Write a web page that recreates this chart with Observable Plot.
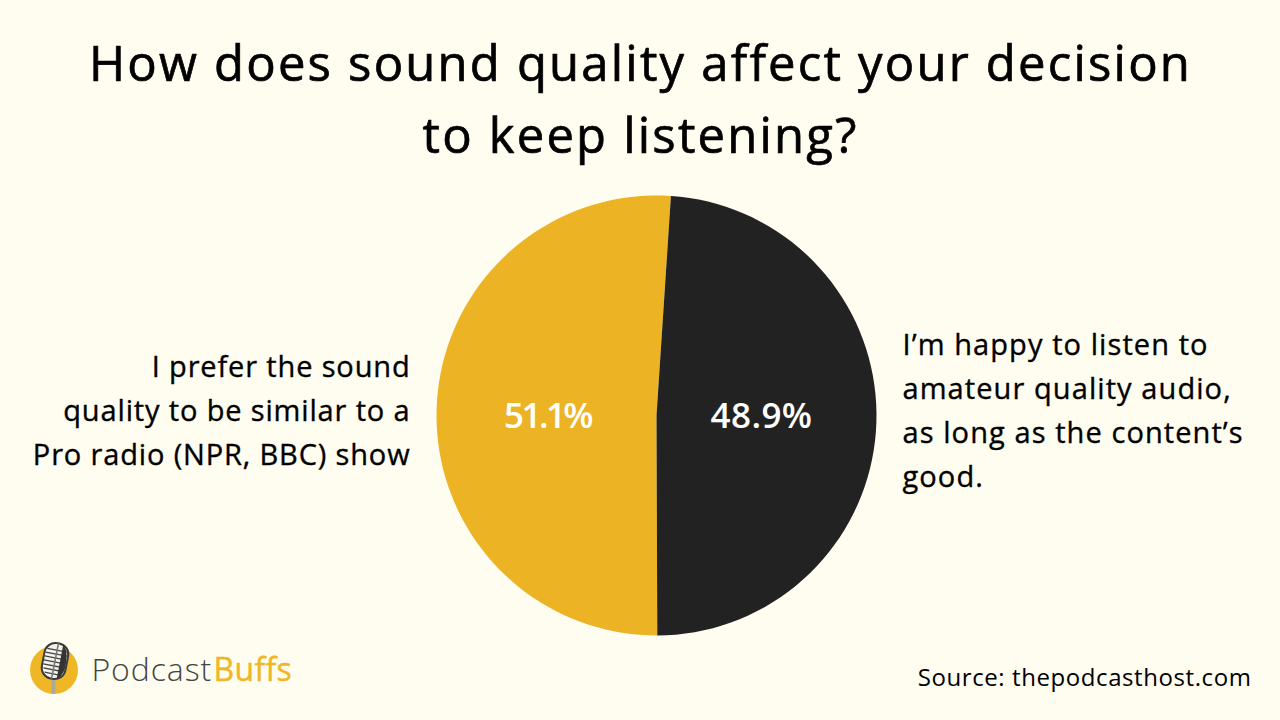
<!DOCTYPE html>
<html>
<head>
<meta charset="utf-8">
<script src="https://cdn.jsdelivr.net/npm/d3@7"></script>
<script src="https://cdn.jsdelivr.net/npm/@observablehq/plot@0.6"></script>
<style>
html,body{margin:0;padding:0;background:#FFFCF0;width:1280px;height:720px;overflow:hidden}
#chart{position:absolute;left:0;top:0}
#logo{position:absolute;left:0;top:630px}
.t-title{letter-spacing:2.2px}
.t-left{letter-spacing:.85px}
.t-right{letter-spacing:1.08px}
.t-source{letter-spacing:.58px}
.t-p1{letter-spacing:-2.6px}
.t-p2{letter-spacing:.4px}
.t-brand-a{letter-spacing:.9px}
.t-brand-b{letter-spacing:.3px}
</style>
</head>
<body>
<div id="chart"></div>
<svg id="logo" width="90" height="80" viewBox="0 630 90 80" role="img" aria-label="PodcastBuffs logo">
  <circle cx="54" cy="670" r="24" fill="#EFB726"/>
  <rect x="51.5" y="678" width="4" height="16" fill="#a9a9a0"/>
  <g transform="rotate(11 55 661)">
    <rect x="43" y="643" width="24" height="36" rx="11" fill="#f4f2ea" stroke="#3a3a3a" stroke-width="2"/>
    <path d="M45 650H65M44 654H66M44 658H66M44 662H66M44 666H66M45 670H65M47 674H63" stroke="#444" stroke-width="1.3" fill="none"/>
    <path d="M55 643V679" stroke="#777" stroke-width="1.6"/>
    <path d="M60 644Q67 648 66 668Q64 676 60 678Z" fill="#333"/>
  </g>
</svg>
<script>
const categories = ["I prefer the sound quality to be similar to a Pro radio (NPR, BBC) show", "I’m happy to listen to amateur quality audio, as long as the content’s good."];
const shares = [51.1, 48.9];
const sliceColors = ["#ECB424", "#222222"];
const shareLabels = ["51.1%", "48.9%"];
const titleText = "How does sound quality affect your decision\nto keep listening?";
const leftLabel = "I prefer the sound\nquality to be similar to a\nPro radio (NPR, BBC) show";
const rightLabel = "I’m happy to listen to\namateur quality audio,\nas long as the content’s\ngood.";
const sourceText = "Source: thepodcasthost.com";
const brandA = "Podcast";
const brandB = "Buffs";

// Each slice is a sector on the globe, seen from above the pole: the meridians
// fan out as radii and the equator becomes the pie's rim.
const total = d3.sum(shares);
const startClock = 179.8;
let clock = startClock;
const features = categories.map((name, i) => {
  const sweep = shares[i] / total * 360;
  const a0 = clock, a1 = clock + sweep;
  clock = a1;
  const steps = Math.ceil(sweep / 20);
  const rim = d3.range(steps + 1).map(k => [180 - (a0 + (a1 - a0) * k / steps), 0]);
  return {
    type: "Feature",
    properties: {name},
    geometry: {type: "Polygon", coordinates: [[[0, 90], ...rim, [0, 90]]]}
  };
});

const font = "'Open Sans', Lato, sans-serif";
const label = (text, o) => Plot.text([text], {
  text: d => d, frameAnchor: "top-left", lineAnchor: "top", fontFamily: font, ...o
});

const chart = Plot.plot({
  width: 1280,
  height: 720,
  margin: 0,
  style: {background: "#FFFCF0", overflow: "visible"},
  color: {domain: categories, range: sliceColors},
  projection: d3.geoAzimuthalEquidistant().rotate([0, -90]).translate([656, 415]).scale(220 / (Math.PI / 2)).precision(0.1),
  marks: [
    Plot.geo(features, {fill: d => d.properties.name}),
    label(titleText, {className: "t-title", dx: 640, dy: 29, textAnchor: "middle", fontSize: 49, lineHeight: 1.47, fill: "#000", stroke: "#000", strokeWidth: 0.7}),
    label(leftLabel, {className: "t-left", dx: 410, dy: 345, textAnchor: "end", fontSize: 29, lineHeight: 1.517, fill: "#000", stroke: "#000", strokeWidth: 0.35}),
    label(rightLabel, {className: "t-right", dx: 902, dy: 323, textAnchor: "start", fontSize: 29, lineHeight: 1.517, fill: "#000", stroke: "#000", strokeWidth: 0.35}),
    label(shareLabels[0], {className: "t-p1", dx: 547, dy: 403, textAnchor: "middle", fontSize: 35, fontWeight: 600, fill: "#fff"}),
    label(shareLabels[1], {className: "t-p2", dx: 761, dy: 403, textAnchor: "middle", fontSize: 35, fontWeight: 600, fill: "#fff"}),
    label(sourceText, {className: "t-source", dx: 1251, dy: 668, textAnchor: "end", fontSize: 24, fill: "#000"}),
    label(brandA, {className: "t-brand-a", dx: 91, dy: 658, textAnchor: "start", fontSize: 32, fontWeight: 300, fill: "#444"}),
    label(brandB, {className: "t-brand-b", dx: 213, dy: 658, textAnchor: "start", fontSize: 32, fontWeight: 500, fill: "#EFB726", stroke: "#EFB726", strokeWidth: 0.4})
  ]
});
document.getElementById("chart").appendChild(chart);
</script>
</body>
</html>
